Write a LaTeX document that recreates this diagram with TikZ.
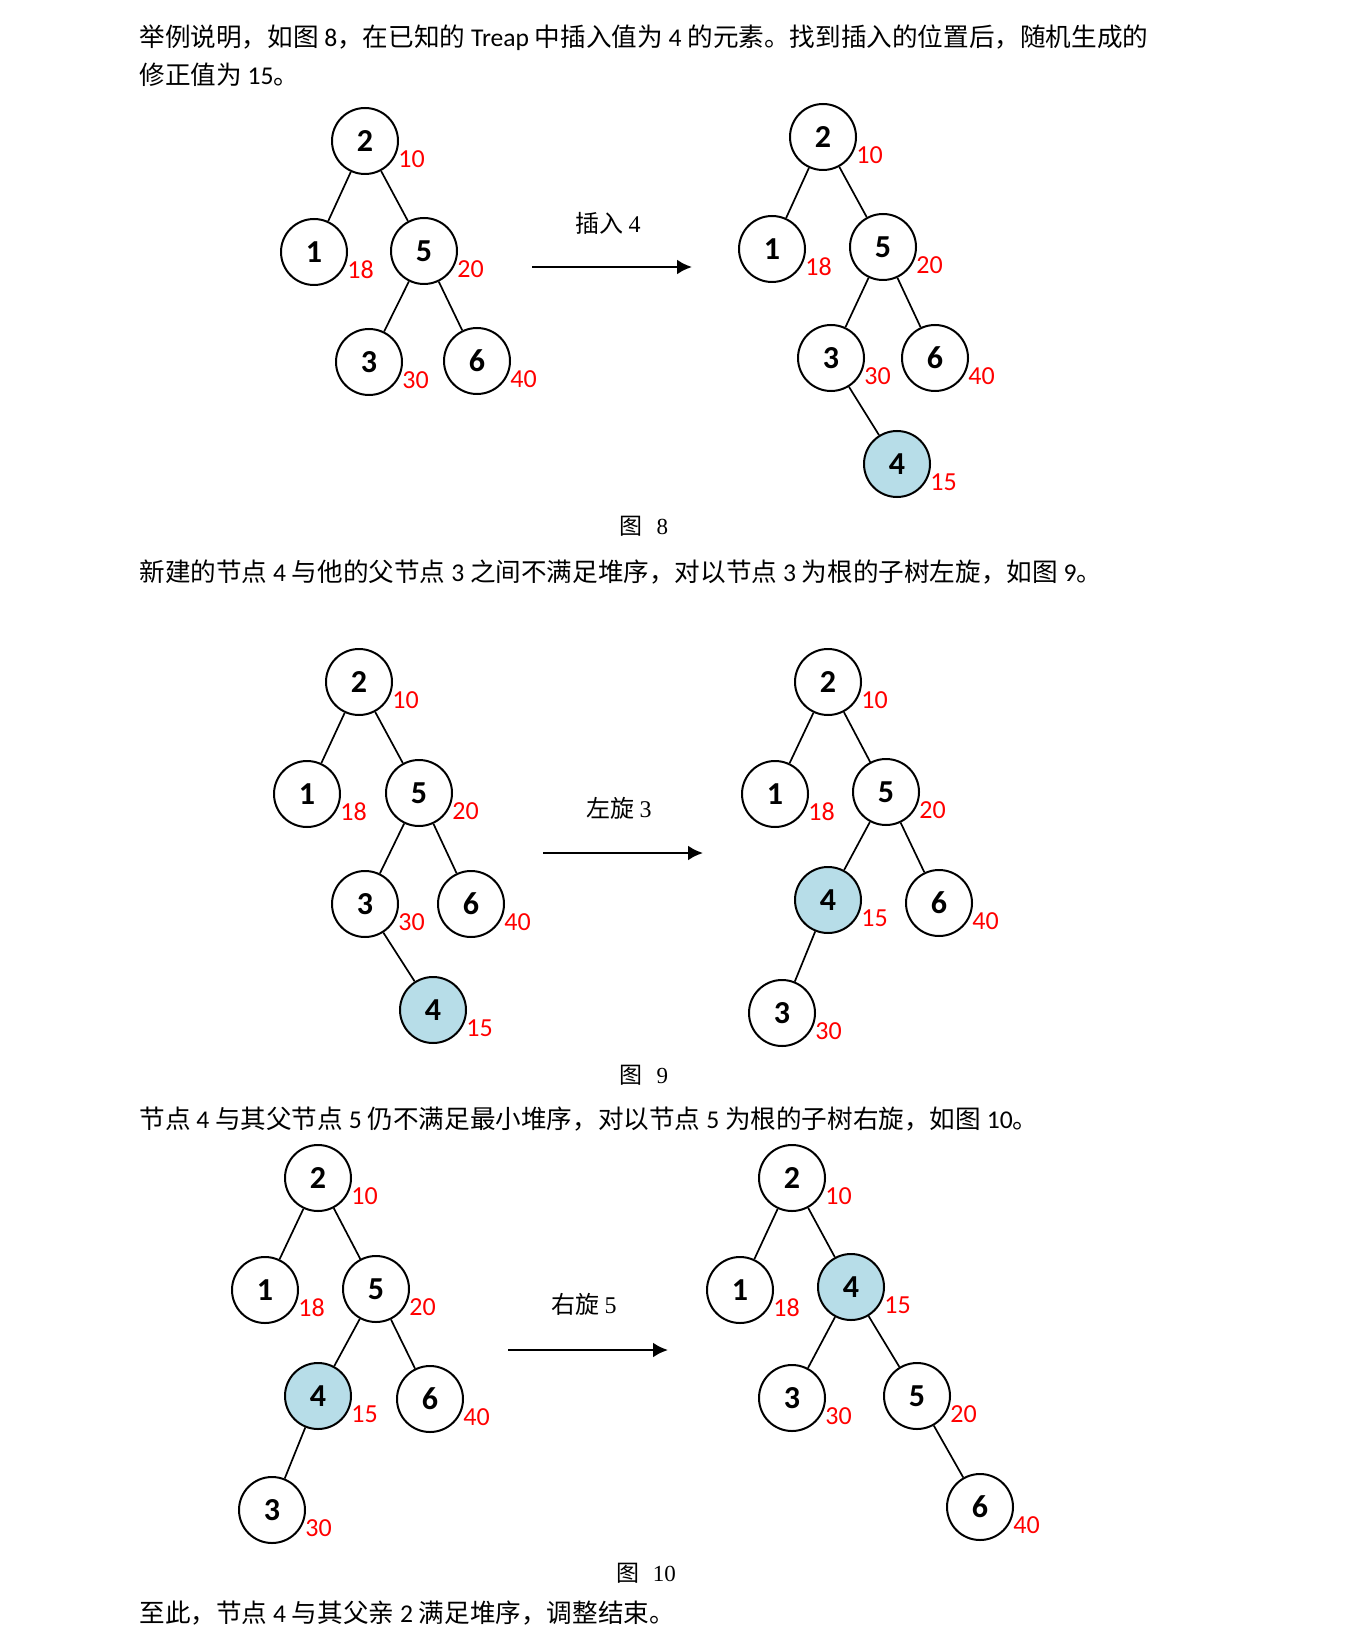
\documentclass[tikz,border=0pt]{standalone}
\usepackage{fontspec}
\setmainfont{Carlito}
\newfontfamily\cjk{Noto Sans CJK SC}
\newfontfamily\serifnum{Liberation Serif}
\usetikzlibrary{arrows.meta}
\definecolor{nodeblue}{RGB}{183,221,232}
\definecolor{priored}{RGB}{255,0,0}

\begin{document}
\begin{tikzpicture}
[x=0.5pt, y=-0.5pt,
  nodedecorate/.style={shape=circle,draw,line width=1pt,minimum size=33pt,inner sep=0pt,%
    font=\fontsize{16}{16}\selectfont\bfseries},%
  linedecorate/.style={-,line width=0.85pt},%
  priodecorate/.style={anchor=west,inner sep=0pt,text=priored,font=\fontsize{13}{13}\selectfont},%
  arrowdecorate/.style={-{Latex[length=7.5pt,width=7.5pt]},line width=1.3pt},%
  steplabel/.style={inner sep=0pt,font=\fontsize{12}{12}\selectfont},%
  bodytext/.style={anchor=west,inner sep=0pt,font=\fontsize{12.8}{12.8}\selectfont},%
  figcaption/.style={inner sep=0pt,font=\fontsize{11.5}{11.5}\selectfont}]
\useasboundingbox (0,0) rectangle (1345,1652);
%% text lines
\node (line1) at (139,38) [bodytext] {{\cjk 举例说明，如图} 8{\cjk ，在已知的} Treap {\cjk 中插入值为} 4 {\cjk 的元素。找到插入的位置后，随机生成的}};
\node (line2) at (139,75) [bodytext] {{\cjk 修正值为} 15{\cjk 。}};
\node (line3) at (139,572) [bodytext] {{\cjk 新建的节点} 4 {\cjk 与他的父节点} 3 {\cjk 之间不满足堆序，对以节点} 3 {\cjk 为根的子树左旋，如图} 9{\cjk 。}};
\node (line4) at (139,1119) [bodytext] {{\cjk 节点} 4 {\cjk 与其父节点} 5 {\cjk 仍不满足最小堆序，对以节点} 5 {\cjk 为根的子树右旋，如图} 10{\cjk 。}};
\node (line5) at (139,1613) [bodytext] {{\cjk 至此，节点} 4 {\cjk 与其父亲} 2 {\cjk 满足堆序，调整结束。}};
%% captions
\node (cap8) at (644,526) [figcaption] {{\cjk 图}\hspace{0.6em}{\serifnum 8}};
\node (cap9) at (644,1075) [figcaption] {{\cjk 图}\hspace{0.6em}{\serifnum 9}};
\node (cap10) at (646,1573) [figcaption] {{\cjk 图}\hspace{0.6em}{\serifnum 10}};
%% nodes or vertices
\foreach \nodename/\key/\x/\y/\prio/\fillcolor in {
  a2/2/365/141/10/white, a1/1/314/252/18/white, a5/5/424/251/20/white,
  a3/3/369/362/30/white, a6/6/477/361/40/white,
  b2/2/823/137/10/white, b1/1/772/249/18/white, b5/5/883/247/20/white,
  b3/3/831/358/30/white, b6/6/935/358/40/white, b4/4/897/464/15/nodeblue,
  c2/2/359/682/10/white, c1/1/307/794/18/white, c5/5/419/793/20/white,
  c3/3/365/904/30/white, c6/6/471/904/40/white, c4/4/433/1010/15/nodeblue,
  d2/2/828/682/10/white, d1/1/775/794/18/white, d5/5/886/792/20/white,
  d4/4/828/900/15/nodeblue, d6/6/939/903/40/white, d3/3/782/1013/30/white,
  e2/2/318/1178/10/white, e1/1/265/1290/18/white, e5/5/376/1289/20/white,
  e4/4/318/1396/15/nodeblue, e6/6/430/1399/40/white, e3/3/272/1510/30/white,
  f2/2/792/1178/10/white, f1/1/740/1290/18/white, f4/4/851/1287/15/nodeblue,
  f3/3/792/1398/30/white, f5/5/917/1396/20/white, f6/6/980/1507/40/white} {
  \node (\nodename) at (\x,\y) [nodedecorate,fill=\fillcolor] {\key};
  \node (p\nodename) at ([shift={(-1,18)}]\nodename.east) [priodecorate] {\prio};
}
%% edges or lines
\path
\foreach \startnode/\endnode in {a2/a1, a2/a5, a5/a3, a5/a6,
  b2/b1, b2/b5, b5/b3, b5/b6, b3/b4,
  c2/c1, c2/c5, c5/c3, c5/c6, c3/c4,
  d2/d1, d2/d5, d5/d4, d5/d6, d4/d3,
  e2/e1, e2/e5, e5/e4, e5/e6, e4/e3,
  f2/f1, f2/f4, f4/f3, f4/f5, f5/f6} {
  (\startnode) edge[linedecorate] (\endnode)
};
%% arrows between trees
\coordinate (s8) at (532,267);
\coordinate (t8) at (692,267);
\coordinate (s9) at (543,853);
\coordinate (t9) at (703,853);
\coordinate (s10) at (508,1350);
\coordinate (t10) at (668,1350);
\draw[arrowdecorate] (s8) -- (t8);
\draw[arrowdecorate] (s9) -- (t9);
\draw[arrowdecorate] (s10) -- (t10);
\node (step8) at (608,223) [steplabel] {{\cjk 插入} {\serifnum 4}};
\node (step9) at (619,808) [steplabel] {{\cjk 左旋} {\serifnum 3}};
\node (step10) at (584,1304) [steplabel] {{\cjk 右旋} {\serifnum 5}};
\end{tikzpicture}
\end{document}
